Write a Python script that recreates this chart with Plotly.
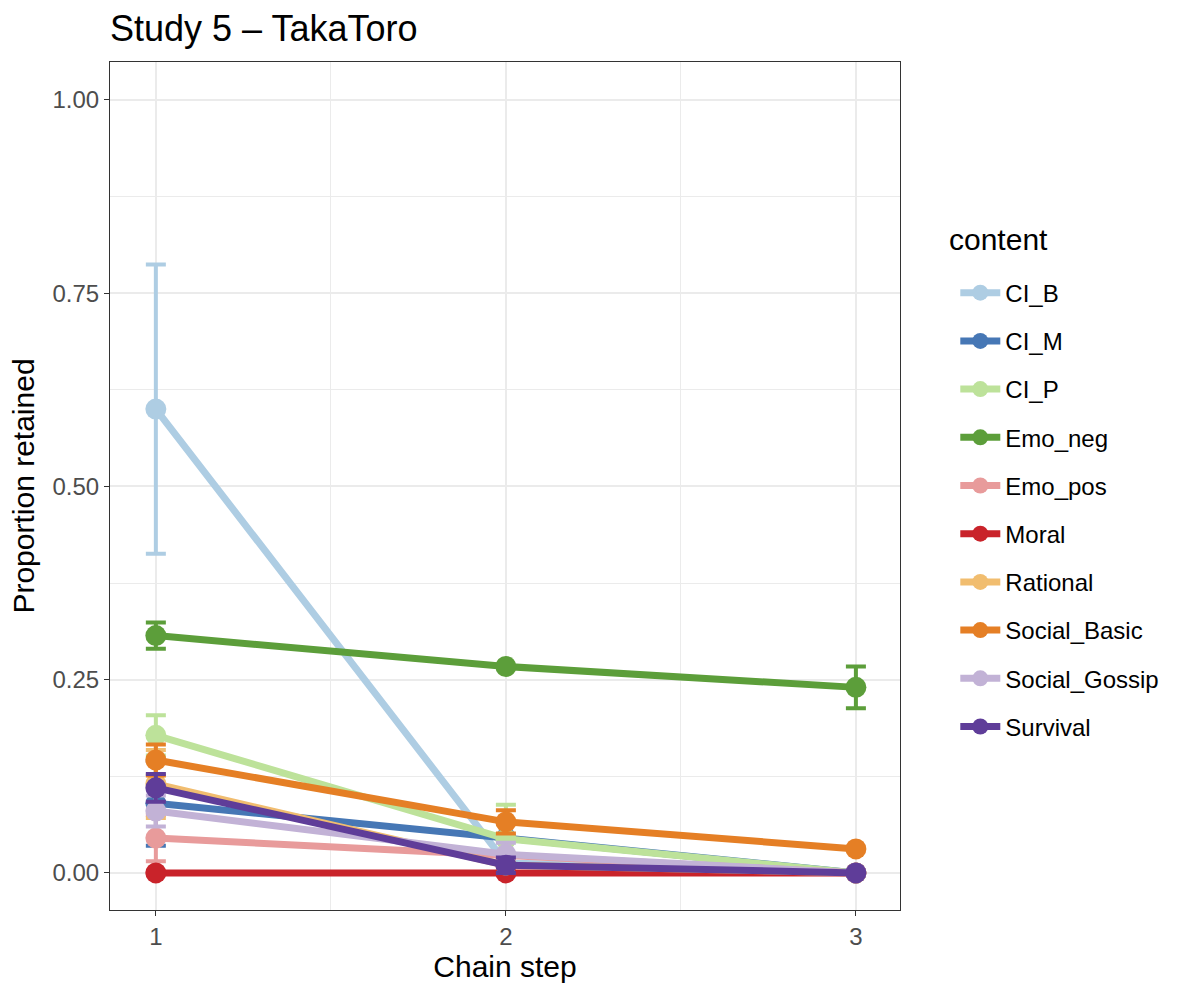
import plotly.graph_objects as go

# Retention proportions per chain step, by content type
steps = [1, 2, 3]
contents = ["CI_B", "CI_M", "CI_P", "Emo_neg", "Emo_pos", "Moral",
            "Rational", "Social_Basic", "Social_Gossip", "Survival"]

ci_b = [0.600, 0.013, 0.0]
ci_m = [0.090, 0.045, 0.0]
ci_p = [0.178, 0.044, 0.0]
emo_neg = [0.307, 0.267, 0.240]
emo_pos = [0.045, 0.022, 0.0]
moral = [0.0, 0.0, 0.0]
rational = [0.115, 0.010, 0.0]
social_basic = [0.146, 0.066, 0.031]
social_gossip = [0.080, 0.024, 0.0]
survival = [0.110, 0.010, 0.0]

# Standard errors (half-length of error bars)
ci_b_se = [0.187, 0.0, 0.0]
ci_m_se = [0.055, 0.0, 0.0]
ci_p_se = [0.026, 0.044, 0.0]
emo_neg_se = [0.017, 0.0, 0.027]
emo_pos_se = [0.030, 0.0, 0.0]
moral_se = [0.0, 0.0, 0.0]
rational_se = [0.044, 0.0, 0.0]
social_basic_se = [0.020, 0.015, 0.0]
social_gossip_se = [0.020, 0.015, 0.0]
survival_se = [0.018, 0.010, 0.0]

values = [ci_b, ci_m, ci_p, emo_neg, emo_pos, moral,
          rational, social_basic, social_gossip, survival]
errors = [ci_b_se, ci_m_se, ci_p_se, emo_neg_se, emo_pos_se, moral_se,
          rational_se, social_basic_se, social_gossip_se, survival_se]
colors = ["#aecde3", "#4677b5", "#bde29a", "#5c9e3a", "#e89b9b",
          "#c9232a", "#f1bd6f", "#e57f25", "#c2b2d6", "#5f3d99"]

fig = go.Figure()
for name, y, e, c in zip(contents, values, errors, colors):
    fig.add_trace(go.Scatter(
        x=steps, y=y, name=name, legendgroup=name,
        mode="lines+markers",
        line=dict(color=c, width=7),
        marker=dict(color=c, size=21),
        error_y=dict(type="data", array=e, visible=True,
                     color=c, thickness=4, width=10),
    ))

W, H = 1180, 988
grid = "#ebebeb"
fig.update_layout(
    width=W, height=H,
    margin=dict(l=110, r=280, t=62, b=78),
    paper_bgcolor="white", plot_bgcolor="white",
    font=dict(family="Liberation Sans, Arial, sans-serif", color="#000"),
    title=dict(text="Study 5 – TakaToro", x=110 / W, xanchor="left",
               y=1 - 28 / H, yanchor="middle",
               font=dict(size=36, color="#000")),
    showlegend=True,
    legend=dict(
        font=dict(size=24, color="#000"),
        x=1.07, xanchor="left", y=0.754, yanchor="top",
        tracegroupgap=14, itemwidth=40,
        bgcolor="rgba(0,0,0,0)",
    ),
    annotations=[dict(
        text="content", xref="paper", yref="paper",
        x=(947 - 110) / 790, y=1 - (240 - 62) / 848,
        xanchor="left", yanchor="middle", showarrow=False,
        font=dict(size=30, color="#000"),
    )],
    xaxis=dict(
        range=[0.869, 3.126], tickvals=[1, 2, 3], ticktext=["1", "2", "3"],
        showgrid=True, gridcolor=grid, gridwidth=2,
        minor=dict(tickvals=[1.5, 2.5], showgrid=True, gridcolor=grid, gridwidth=1),
        zeroline=False, showline=True, mirror=True, linecolor="#333", linewidth=1,
        ticks="outside", ticklen=5, tickcolor="#333",
        tickfont=dict(size=24, color="#4d4d4d"),
        title=dict(text="Chain step", font=dict(size=30, color="#000"), standoff=6),
    ),
    yaxis=dict(
        range=[-0.048, 1.049], tickvals=[0, 0.25, 0.5, 0.75, 1.0],
        ticktext=["0.00", "0.25", "0.50", "0.75", "1.00"],
        showgrid=True, gridcolor=grid, gridwidth=2,
        minor=dict(tickvals=[0.125, 0.375, 0.625, 0.875], showgrid=True,
                   gridcolor=grid, gridwidth=1),
        zeroline=False, showline=True, mirror=True, linecolor="#333", linewidth=1,
        ticks="outside", ticklen=5, tickcolor="#333",
        tickfont=dict(size=24, color="#4d4d4d"),
        title=dict(text="Proportion retained", font=dict(size=30, color="#000"),
                   standoff=8),
    ),
)

fig.write_html("out.html")
